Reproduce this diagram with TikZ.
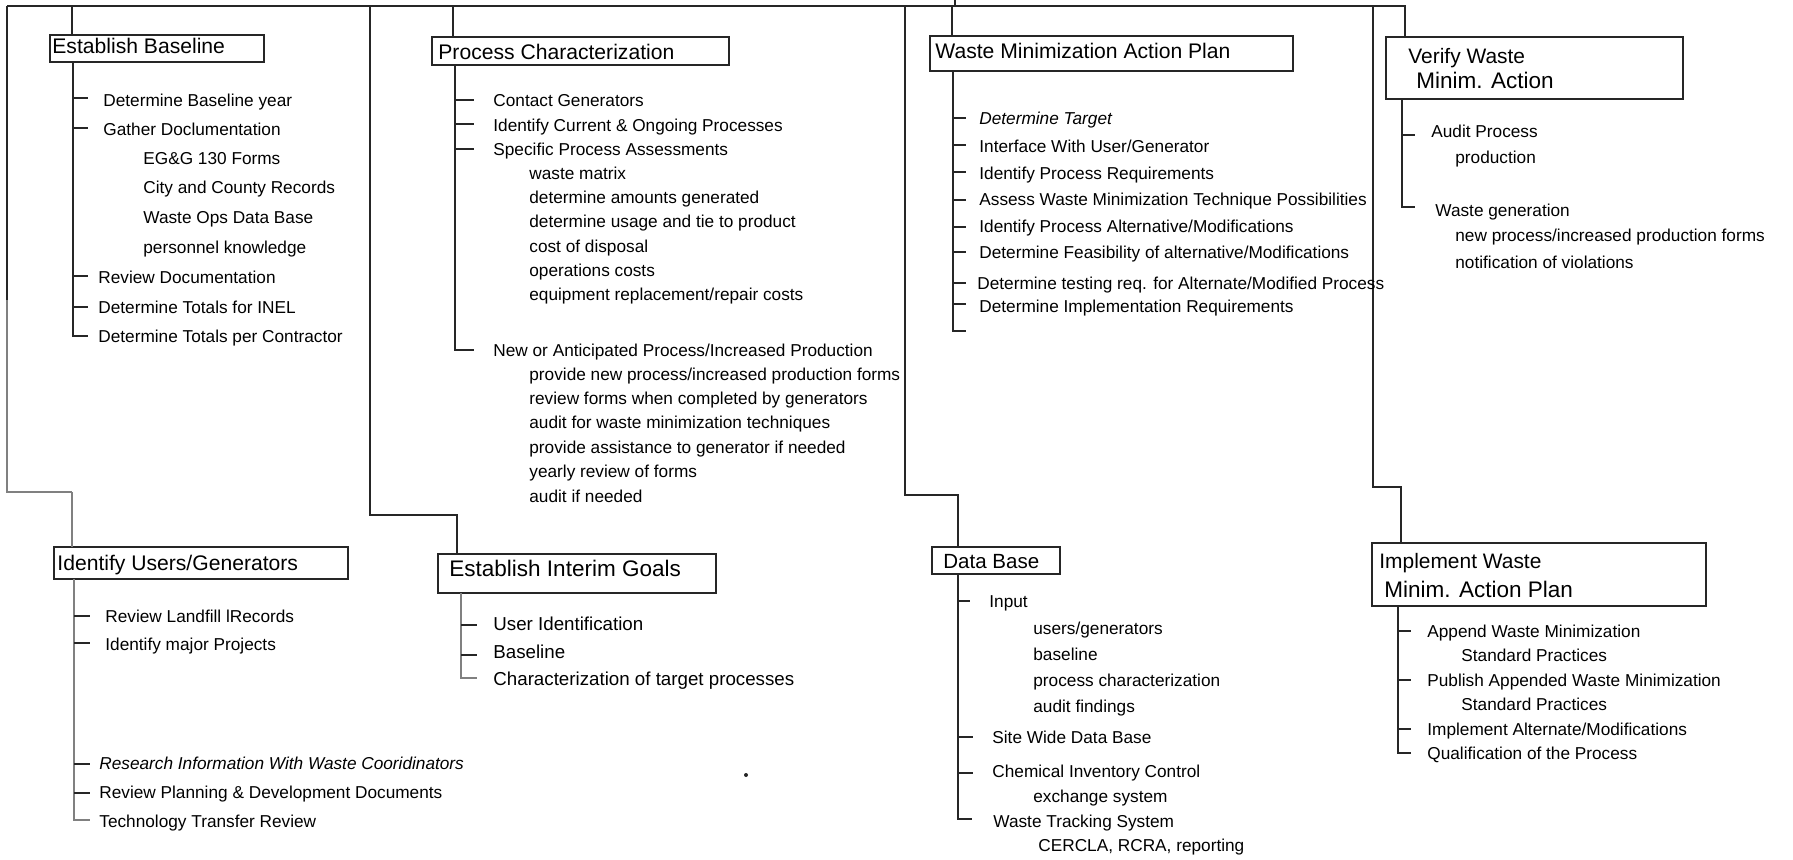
\documentclass[tikz,border=0pt]{standalone}
\usepackage{fontspec}
\setmainfont{Liberation Sans}
% box with its north-west corner at (#2,#3) and south-east corner at (#4,#5)
\newcommand\wbox[5]{\node[frame, minimum width={(#4-#2)*0.5bp}, minimum height={(#5-#3)*0.5bp}] (#1) at (#2,#3) {};}
% short horizontal branch off a tree trunk
\newcommand\twig[3]{\draw[wire] (#1,#2) -- (#3,#2);}
\begin{document}
\begin{tikzpicture}[x=0.5bp, y=-0.5bp,
  wire/.style={line width=0.7bp, draw=black!85},
  faint/.style={line width=0.6bp, draw=black!50},
  frame/.style={draw=black!85, line width=0.55bp, inner sep=0, outer sep=0, anchor=north west},
  title/.style={anchor=base west, inner sep=0, font=\fontsize{10.6}{12}\selectfont},
  bigtitle/.style={anchor=base west, inner sep=0, font=\fontsize{11.3}{13}\selectfont},
  item/.style={anchor=base west, inner sep=0, font=\fontsize{8.65}{10}\selectfont},
  itemb/.style={anchor=base west, inner sep=0, font=\fontsize{9.4}{11}\selectfont}]
\useasboundingbox (0,0) rectangle (1793,860);

% ---------------- boxes ----------------
\wbox{eb}{50}{35}{264}{62}
\wbox{pc}{432}{37}{729}{65}
\wbox{wm}{930}{36}{1293}{71}
\wbox{vw}{1386}{37}{1683}{99}
\wbox{iu}{54}{547}{348}{579}
\wbox{ig}{438}{554}{716}{593}
\wbox{db}{932}{547}{1060}{574}
\wbox{im}{1372}{543}{1706}{606}

\node[title] (ebT) at (52,53) {Establish Baseline};
\node[title] (pcT) at (438,59) {Process Characterization};
\node[title] (wmT) at (935,58) {Waste Minimization Action Plan};
\node[anchor=base west, inner sep=0, font=\fontsize{10.5}{12}\selectfont] (vwT1) at (1408,63) {Verify Waste};
\node[bigtitle] (vwT2) at (1416,88) {Minim. Action};
\node[title] (iuT) at (57,570) {Identify Users/Generators};
\node[bigtitle] (igT) at (449,576) {Establish Interim Goals};
\node[anchor=base west, inner sep=0, font=\fontsize{10.3}{12}\selectfont] (dbT) at (943,568) {Data Base};
\node[anchor=base west, inner sep=0, font=\fontsize{10.5}{12}\selectfont] (imT1) at (1379,568) {Implement Waste};
\node[bigtitle] (imT2) at (1384,597) {Minim. Action Plan};

% ---------------- main bus and drops ----------------
\coordinate (busL) at (7,6);
\coordinate (busR) at (1405,6);
\coordinate (feed) at (955,0);
\coordinate (dEB) at (72,6);
\coordinate (dPC) at (453,6);
\coordinate (dWM) at (952,6);
\coordinate (s1) at (370,6);
\coordinate (s2) at (905,6);
\coordinate (s3) at (1373,6);

\draw[wire] (busL) -- (busR) -- (busR |- vw.north);
\draw[wire] (feed) -- (feed |- busL);
\draw[wire] (dEB) -- (dEB |- eb.north);
\draw[wire] (dPC) -- (dPC |- pc.north);
\draw[wire] (dWM) -- (dWM |- wm.north);

% left edge down to Identify Users/Generators
\draw[wire] (busL) -- (7,300);
\draw[faint] (7,300) -- (7,492) -- (72,492);
\draw[faint] (72,492) -- (72,0 |- iu.north);
% separators leading down to the lower boxes
\draw[wire] (s1) -- (370,515) -- (457,515) -- (457,0 |- ig.north);
\draw[wire] (s2) -- (905,495) -- (958,495) -- (958,0 |- db.north);
\draw[wire] (s3) -- (1373,487) -- (1401,487) -- (1401,0 |- im.north);

% ---------------- Establish Baseline ----------------
\draw[wire] (73,0 |- eb.south) -- (73,336) -- (88,336);
\twig{73}{98}{88}
\twig{73}{128}{88}
\twig{73}{276}{88}
\twig{73}{307}{88}
\node[item] (eb1) at (103,106) {Determine Baseline year};
\node[item] (eb2) at (103,135) {Gather Doclumentation};
\node[item] (eb3) at (143,164) {EG\&G 130 Forms};
\node[item] (eb4) at (143,193) {City and County Records};
\node[item] (eb5) at (143,223) {Waste Ops Data Base};
\node[item] (eb6) at (143,253) {personnel knowledge};
\node[item] (eb7) at (98,283) {Review Documentation};
\node[item] (eb8) at (98,313) {Determine Totals for INEL};
\node[item] (eb9) at (98,342) {Determine Totals per Contractor};

% ---------------- Identify Users/Generators ----------------
\draw[faint] (74,0 |- iu.south) -- (74,820) -- (90,820);
\twig{74}{616}{90}
\twig{74}{643}{90}
\twig{74}{764}{90}
\twig{74}{793}{90}
\node[item] (iu1) at (105,622) {Review Landfill lRecords};
\node[item] (iu2) at (105,650) {Identify major Projects};
\node[item, font=\fontsize{8.65}{10}\selectfont\itshape] (iu3) at (99,769) {Research Information With Waste Cooridinators};
\node[item] (iu4) at (99,798) {Review Planning \& Development Documents};
\node[item] (iu5) at (99,827) {Technology Transfer Review};

% ---------------- Process Characterization ----------------
\draw[wire] (455,0 |- pc.south) -- (455,350) -- (474,350);
\twig{455}{100}{474}
\twig{455}{124}{474}
\twig{455}{149}{474}
\node[item] (pc1) at (493,106) {Contact Generators};
\node[item] (pc2) at (493,131) {Identify Current \& Ongoing Processes};
\node[item] (pc3) at (493,155) {Specific Process Assessments};
\node[item] (pc4) at (529,179) {waste matrix};
\node[item] (pc5) at (529,203) {determine amounts generated};
\node[item] (pc6) at (529,227) {determine usage and tie to product};
\node[item] (pc7) at (529,252) {cost of disposal};
\node[item] (pc8) at (529,276) {operations costs};
\node[item] (pc9) at (529,300) {equipment replacement/repair costs};
\node[item] (pc10) at (493,356) {New or Anticipated Process/Increased Production};
\node[item] (pc11) at (529,380) {provide new process/increased production forms};
\node[item] (pc12) at (529,404) {review forms when completed by generators};
\node[item] (pc13) at (529,428) {audit for waste minimization techniques};
\node[item] (pc14) at (529,453) {provide assistance to generator if needed};
\node[item] (pc15) at (529,477) {yearly review of forms};
\node[item] (pc16) at (529,502) {audit if needed};

% ---------------- Establish Interim Goals ----------------
\draw[faint] (461,0 |- ig.south) -- (461,678) -- (477,678);
\twig{461}{625}{477}
\twig{461}{655}{477}
\node[itemb] (ig1) at (493,630) {User Identification};
\node[itemb] (ig2) at (493,658) {Baseline};
\node[itemb] (ig3) at (493,685) {Characterization of target processes};
\fill[black!85] (746,775) circle (2);

% ---------------- Waste Minimization Action Plan ----------------
\draw[wire] (953,0 |- wm.south) -- (953,331) -- (966,331);
\twig{953}{118}{966}
\twig{953}{145}{966}
\twig{953}{172}{966}
\twig{953}{200}{966}
\twig{953}{227}{966}
\twig{953}{252}{966}
\twig{953}{283}{966}
\twig{953}{304}{966}
\node[item, font=\fontsize{8.65}{10}\selectfont\itshape] (wm1) at (979,124) {Determine Target};
\node[item] (wm2) at (979,152) {Interface With User/Generator};
\node[item] (wm3) at (979,179) {Identify Process Requirements};
\node[item] (wm4) at (979,205) {Assess Waste Minimization Technique Possibilities};
\node[item] (wm5) at (979,232) {Identify Process Alternative/Modifications};
\node[item] (wm6) at (979,258) {Determine Feasibility of alternative/Modifications};
\node[item] (wm7) at (977,289) {Determine testing req. for Alternate/Modified Process};
\node[item] (wm8) at (979,312) {Determine Implementation Requirements};

% ---------------- Data Base ----------------
\draw[wire] (958,0 |- db.south) -- (958,819) -- (972,819);
\twig{958}{601}{970}
\twig{958}{737}{973}
\twig{958}{773}{973}
\node[item] (db1) at (989,607) {Input};
\node[item] (db2) at (1033,634) {users/generators};
\node[item] (db3) at (1033,660) {baseline};
\node[item] (db4) at (1033,686) {process characterization};
\node[item] (db5) at (1033,712) {audit findings};
\node[item] (db6) at (992,743) {Site Wide Data Base};
\node[item] (db7) at (992,777) {Chemical Inventory Control};
\node[item] (db8) at (1033,802) {exchange system};
\node[item] (db9) at (993,827) {Waste Tracking System};
\node[item] (db10) at (1038,851) {CERCLA, RCRA, reporting};

% ---------------- Verify Waste Minim. Action ----------------
\draw[wire] (1402,0 |- vw.south) -- (1402,207) -- (1415,207);
\twig{1402}{135}{1415}
\node[item] (vw1) at (1431,137) {Audit Process};
\node[item] (vw2) at (1455,163) {production};
\node[item] (vw3) at (1435,216) {Waste generation};
\node[item] (vw4) at (1455,241) {new process/increased production forms};
\node[item] (vw5) at (1455,268) {notification of violations};

% ---------------- Implement Waste Minim. Action Plan ----------------
\draw[wire] (1398,0 |- im.south) -- (1398,753) -- (1411,753);
\twig{1398}{631}{1411}
\twig{1398}{680}{1411}
\twig{1398}{729}{1411}
\node[item] (im1) at (1427,637) {Append Waste Minimization};
\node[item] (im2) at (1461,661) {Standard Practices};
\node[item] (im3) at (1427,686) {Publish Appended Waste Minimization};
\node[item] (im4) at (1461,710) {Standard Practices};
\node[item] (im5) at (1427,735) {Implement Alternate/Modifications};
\node[item] (im6) at (1427,759) {Qualification of the Process};
\end{tikzpicture}
\end{document}
